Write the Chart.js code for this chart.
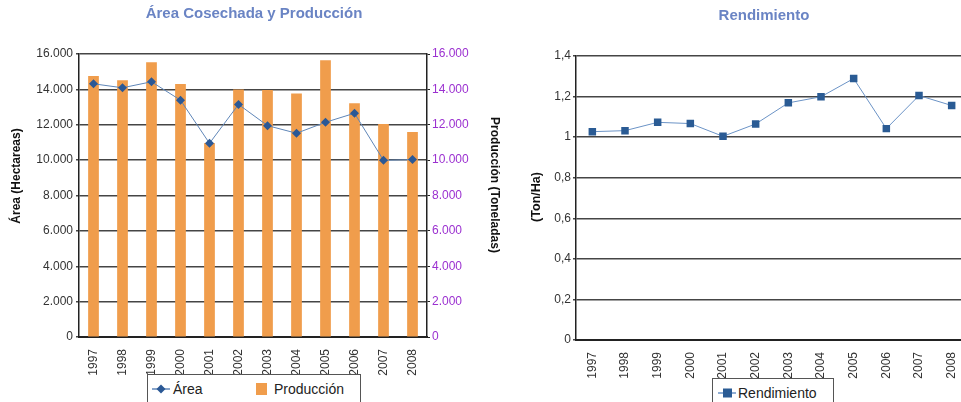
<!DOCTYPE html>
<html>
<head>
<meta charset="utf-8">
<script src="https://cdn.jsdelivr.net/npm/chart.js@4/dist/chart.umd.min.js"></script>
<style>
  html, body { margin:0; padding:0; background:#fff; width:961px; height:402px; overflow:hidden; position:relative; }
  .wrap { position:absolute; top:0; height:402px; }
  #leftWrap { left:0; width:520px; }
  #rightWrap { left:520px; width:460px; }
  .title { position:absolute; font:bold 15px "Liberation Sans", Arial, sans-serif; color:#6a84c4; white-space:nowrap; transform:translateX(-50%); line-height:18px; }
  .legend { position:absolute; border:1px solid #555; background:#fff; height:40px; font:14px "Liberation Sans", Arial, sans-serif; color:#222; }
  .legend span, .legend svg { position:absolute; }
  .legend span { top:5px; line-height:18px; white-space:nowrap; }
</style>
</head>
<body>
<div class="wrap" id="leftWrap"><canvas id="chartLeft" width="520" height="402"></canvas></div>
<div class="wrap" id="rightWrap"><canvas id="chartRight" width="460" height="402"></canvas></div>

<div class="title" style="left:254px; top:4px;">Área Cosechada y Producción</div>
<div class="title" style="left:764px; top:6px;">Rendimiento</div>

<div class="legend" style="left:147px; top:374px; width:212px;">
  <svg style="left:4px; top:7px;" width="18" height="14"><line x1="0" y1="7" x2="18" y2="7" stroke="#5f86b8" stroke-width="1.5"/><path d="M9 2.5 L13.5 7 L9 11.5 L4.5 7 Z" fill="#2b5895"/></svg>
  <span style="left:25px;">Área</span>
  <svg style="left:108px; top:8px;" width="12" height="12"><rect x="0" y="0" width="11" height="12" fill="#f09d4c"/></svg>
  <span style="left:126px;">Producción</span>
</div>
<div class="legend" style="left:712px; top:378px; width:120px;">
  <svg style="left:5px; top:7px;" width="18" height="14"><line x1="0" y1="7" x2="18" y2="7" stroke="#6b93c6" stroke-width="1.5"/><rect x="5" y="2.5" width="9" height="9" fill="#2a5b94"/></svg>
  <span style="left:25px;">Rendimiento</span>
</div>

<script>
const years = ['1997','1998','1999','2000','2001','2002','2003','2004','2005','2006','2007','2008'];
const areaHa = [14315, 14090, 14430, 13390, 10950, 13150, 11950, 11520, 12140, 12650, 9990, 10030];
const produccionTon = [14750, 14510, 15530, 14300, 10970, 14000, 13960, 13770, 15640, 13220, 12045, 11590];
const rendimiento = [1.027, 1.032, 1.073, 1.067, 1.004, 1.065, 1.169, 1.199, 1.289, 1.042, 1.205, 1.156];

const sans = '"Liberation Sans", Arial, sans-serif';
const gridColor = '#454545';

function miles(v){ return String(v).replace(/\B(?=(\d{3})+(?!\d))/g, '.'); }
function decimal(v){ return String(Math.round(v * 10) / 10).replace('.', ','); }

// rotated side titles, positioned freely like in the original spreadsheet
const sideTitles = {
  id: 'sideTitles',
  afterDraw(chart, args, opts){
    const ctx = chart.ctx;
    (opts.items || []).forEach(t => {
      ctx.save();
      ctx.translate(t.x, t.y);
      ctx.rotate(t.rot);
      ctx.font = 'bold ' + (t.size || 12) + 'px ' + sans;
      ctx.fillStyle = '#111';
      ctx.textAlign = 'center';
      ctx.textBaseline = 'middle';
      ctx.fillText(t.text, 0, 0);
      ctx.restore();
    });
  }
};

new Chart(document.getElementById('chartLeft'), {
  data: {
    labels: years,
    datasets: [
      { type:'line', label:'Área', data:areaHa, yAxisID:'y', order:0,
        borderColor:'#5f86b8', borderWidth:1, pointStyle:'rectRot', pointRadius:4.5,
        pointBackgroundColor:'#2b5895', pointBorderColor:'#2b5895', pointBorderWidth:0 },
      { type:'bar', label:'Producción', data:produccionTon, yAxisID:'y1', order:1,
        backgroundColor:'#f09d4c', barPercentage:0.37, categoryPercentage:1 }
    ]
  },
  options: {
    responsive:false, animation:false,
    layout:{ padding:{ top:54, bottom:25, left:0, right:0 } },
    plugins:{
      legend:{ display:false }, tooltip:{ enabled:false },
      sideTitles:{ items:[
        { text:'Área (Hectareas)', x:17, y:176, rot:-Math.PI/2 },
        { text:'Producción (Toneladas)', x:494, y:185, rot:Math.PI/2 }
      ] }
    },
    scales:{
      x:{
        grid:{ display:false },
        border:{ color:'#222', width:2 },
        ticks:{ color:'#333', font:{ family:sans, size:12 }, minRotation:90, maxRotation:90, padding:4 },
        afterFit(s){ s.height = 40; }
      },
      y:{
        position:'left', min:0, max:16000,
        ticks:{ stepSize:2000, color:'#333', font:{ family:sans, size:12 }, padding:3, callback:v => miles(v) },
        grid:{ color:gridColor, lineWidth:1.5, tickLength:3 },
        border:{ color:'#222', width:1.5 },
        afterFit(s){ s.width = 79; }
      },
      y1:{
        position:'right', min:0, max:16000,
        ticks:{ stepSize:2000, color:'#9b30d0', font:{ family:sans, size:12 }, padding:2, callback:v => miles(v) },
        grid:{ drawOnChartArea:false, tickLength:3, color:'#222' },
        border:{ color:'#222', width:1.5 },
        afterFit(s){ s.width = 93; }
      }
    }
  },
  plugins:[sideTitles]
});

new Chart(document.getElementById('chartRight'), {
  type:'line',
  data: {
    labels: years,
    datasets: [
      { label:'Rendimiento', data:rendimiento,
        borderColor:'#6b93c6', borderWidth:1, pointStyle:'rect', pointRadius:5.3,
        pointBackgroundColor:'#2a5b94', pointBorderColor:'#2a5b94', pointBorderWidth:0 }
    ]
  },
  options: {
    responsive:false, animation:false,
    layout:{ padding:{ top:56, bottom:22, left:0, right:12 } },
    plugins:{
      legend:{ display:false }, tooltip:{ enabled:false },
      sideTitles:{ items:[ { text:'(Ton/Ha)', x:17, y:197, rot:-Math.PI/2, size:12.5 } ] }
    },
    scales:{
      x:{
        offset:true,
        grid:{ display:false },
        border:{ color:'#222', width:2 },
        ticks:{ color:'#333', font:{ family:sans, size:12 }, minRotation:90, maxRotation:90, padding:4 },
        afterFit(s){ s.height = 40; }
      },
      y:{
        min:0, max:1.4,
        ticks:{ stepSize:0.2, color:'#333', font:{ family:sans, size:12 }, padding:2, callback:v => decimal(v) },
        grid:{ color:gridColor, lineWidth:1.5, tickLength:3 },
        border:{ color:'#222', width:1.5 },
        afterFit(s){ s.width = 56; }
      }
    }
  },
  plugins:[sideTitles]
});
</script>
</body>
</html>
